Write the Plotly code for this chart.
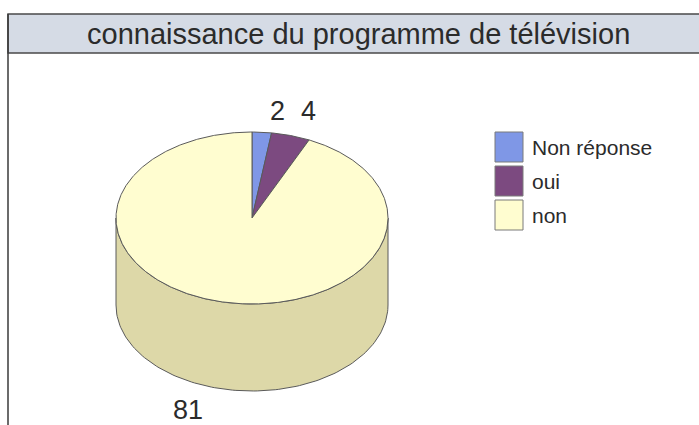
import numpy as np
import plotly.graph_objects as go

# ---- data ----
categories = ["Non réponse", "oui", "non"]
values = [2, 4, 81]
top_colors = ["#7f97e6", "#7c4a80", "#fffdd0"]
side_colors = ["#5f74b8", "#5e3762", "#ddd8a8"]
title_text = "connaissance du programme de télévision"

W, H = 699, 425
CX, CY, RX, RY, DEPTH = 252, 218, 136, 86, 87
OUTLINE = "#5a5a5a"
FONT = "Liberation Sans, Arial, sans-serif"

total = float(sum(values))
bounds = np.concatenate([[0.0], np.cumsum(values) / total * 360.0])


def pt(theta_deg, dy=0.0):
    t = np.radians(theta_deg)
    return CX + RX * np.sin(t), CY - RY * np.cos(t) + dy


fig = go.Figure()

# side (front visible part: 90..270 deg)
for i, cat in enumerate(categories):
    a0, a1 = max(bounds[i], 90.0), min(bounds[i + 1], 270.0)
    if a1 <= a0:
        continue
    th = np.linspace(a0, a1, 120)
    xs_t, ys_t = pt(th)
    xs_b, ys_b = pt(th[::-1], DEPTH)
    xs = np.concatenate([xs_t, xs_b, xs_t[:1]])
    ys = np.concatenate([ys_t, ys_b, ys_t[:1]])
    fig.add_trace(go.Scatter(x=xs, y=ys, mode="lines", fill="toself",
                             fillcolor=side_colors[i],
                             line=dict(color=OUTLINE, width=1),
                             hoverinfo="skip", showlegend=False))

# top face slices
for i, cat in enumerate(categories):
    th = np.linspace(bounds[i], bounds[i + 1], max(4, int((bounds[i + 1] - bounds[i]) * 2)))
    xs_a, ys_a = pt(th)
    xs = np.concatenate([[CX], xs_a, [CX]])
    ys = np.concatenate([[CY], ys_a, [CY]])
    fig.add_trace(go.Scatter(x=xs, y=ys, mode="lines", fill="toself",
                             fillcolor=top_colors[i],
                             line=dict(color=OUTLINE, width=1),
                             name=cat, hovertemplate=f"{cat}: {values[i]}<extra></extra>",
                             showlegend=False))

shapes = []
annotations = []

# frame and title band
shapes.append(dict(type="rect", xref="x", yref="y", x0=8, x1=W + 5, y0=14, y1=53,
                   fillcolor="#d5dbe5", line=dict(color="#4a4a4a", width=1.5), layer="below"))
shapes.append(dict(type="line", xref="x", yref="y", x0=8, x1=8, y0=14, y1=H + 5,
                   line=dict(color="#3a3a3a", width=1.5)))
annotations.append(dict(x=358, y=34, xref="x", yref="y", text=title_text, showarrow=False,
                        font=dict(family=FONT, size=29, color="#2b2b2b"),
                        xanchor="center", yanchor="middle"))

# data labels
label_pos = [(277, 111), (308, 111), (188, 410)]
for i, v in enumerate(values):
    lx, ly = label_pos[i]
    annotations.append(dict(x=lx, y=ly, xref="x", yref="y", text=str(v), showarrow=False,
                            font=dict(family=FONT, size=27, color="#2b2b2b"),
                            xanchor="center", yanchor="middle"))

# legend
leg_x0, leg_y0, sq_w, sq_h, step = 495, 132, 28, 30, 34
for i, cat in enumerate(categories):
    y0 = leg_y0 + i * step
    shapes.append(dict(type="rect", xref="x", yref="y", x0=leg_x0, x1=leg_x0 + sq_w,
                       y0=y0, y1=y0 + sq_h, fillcolor=top_colors[i],
                       line=dict(color="#7a7a7a", width=1)))
    annotations.append(dict(x=leg_x0 + sq_w + 7, y=y0 + sq_h / 2, xref="x", yref="y",
                            text=cat, showarrow=False,
                            font=dict(family=FONT, size=21, color="#2b2b2b"),
                            xanchor="left", yanchor="middle"))

fig.update_layout(
    width=W, height=H,
    margin=dict(l=0, r=0, t=0, b=0),
    paper_bgcolor="white", plot_bgcolor="white",
    xaxis=dict(range=[0, W], visible=False, fixedrange=True, domain=[0, 1]),
    yaxis=dict(range=[H, 0], visible=False, fixedrange=True, domain=[0, 1]),
    shapes=shapes, annotations=annotations,
    showlegend=False,
)

fig.write_html("out.html", post_script="document.body.style.margin='0';document.body.style.overflow='hidden';",
               config={"displayModeBar": False})
